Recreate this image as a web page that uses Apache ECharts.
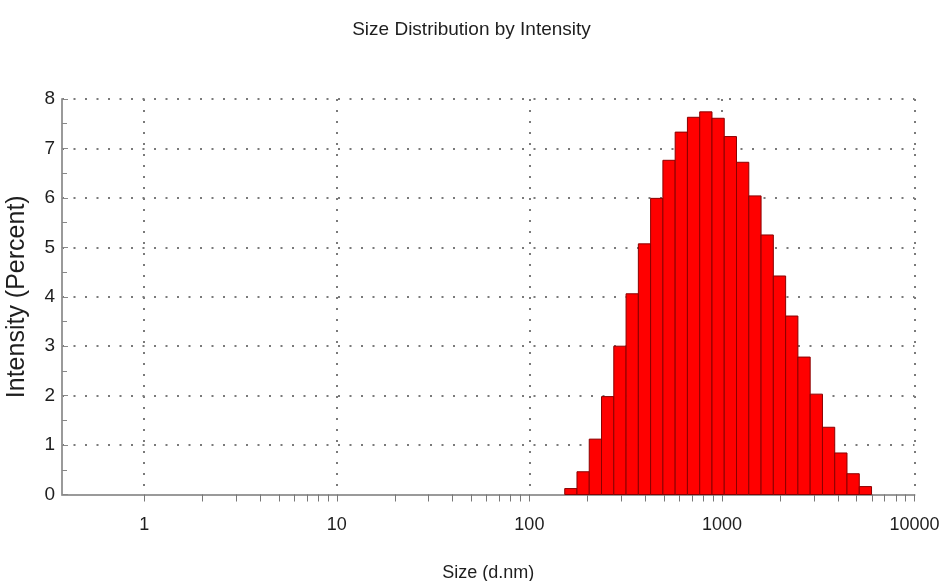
<!DOCTYPE html>
<html>
<head>
<meta charset="utf-8">
<script src="https://cdn.jsdelivr.net/npm/echarts@6/dist/echarts.min.js"></script>
<style>
html,body{margin:0;padding:0;background:#fff;}
#chart{width:943px;height:581px;}
</style>
</head>
<body>
<div id="chart"></div>
<script>
// Bin centre sizes (d.nm) and intensity (%)
const sizes = [164.2, 190.1, 220.2, 255.0, 295.3, 342.0, 396.1, 458.7, 531.2, 615.1, 712.4, 825.0, 955.4, 1106, 1281, 1484, 1718, 1990, 2305, 2669, 3091, 3580, 4145, 4801, 5560];
const intensity = [0.12, 0.46, 1.12, 1.98, 3.00, 4.06, 5.07, 5.99, 6.76, 7.33, 7.63, 7.74, 7.61, 7.24, 6.72, 6.04, 5.25, 4.42, 3.61, 2.78, 2.03, 1.36, 0.84, 0.42, 0.16];
const majorTicks = [1, 10, 100, 1000, 10000];
const minorTicks = [2, 3, 4, 5, 6, 7, 8, 9, 20, 30, 40, 50, 60, 70, 80, 90, 200, 300, 400, 500, 600, 700, 800, 900, 2000, 3000, 4000, 5000, 6000, 7000, 8000, 9000];

const FONT = "'Liberation Sans', Arial, sans-serif";
const TXT = '#1e1e1e';
const AXIS = '#9a9a9a';
const GRID = '#7a7a7a';

// bin edges: geometric midpoints between neighbouring sizes
const ratio = sizes[1] / sizes[0];
const data = sizes.map((s, i) => {
  const lo = i > 0 ? Math.sqrt(sizes[i - 1] * s) : s / Math.sqrt(ratio);
  const hi = i < sizes.length - 1 ? Math.sqrt(sizes[i + 1] * s) : s * Math.sqrt(ratio);
  return [s, intensity[i], lo, hi];
});

const chart = echarts.init(document.getElementById('chart'), null, {renderer: 'canvas'});
chart.setOption({
  animation: false,
  backgroundColor: '#fff',
  title: {
    text: 'Size Distribution by Intensity',
    left: 'center',
    top: 15,
    textStyle: {fontFamily: FONT, fontSize: 19, fontWeight: 'normal', color: TXT}
  },
  grid: {left: 62, right: 28.5, top: 99, bottom: 86.5, containLabel: false, outerBoundsMode: 'none'},
  xAxis: [{
    type: 'log',
    logBase: 10,
    min: 0.374,
    max: 10000,
    name: 'Size (d.nm)',
    nameLocation: 'middle',
    nameGap: 70,
    nameTextStyle: {fontFamily: FONT, fontSize: 18, color: TXT},
    axisLine: {show: true, lineStyle: {color: AXIS, width: 2}},
    axisTick: {show: true, customValues: majorTicks, length: 7, lineStyle: {color: '#777', width: 1}},
    axisLabel: {
      show: true, customValues: majorTicks, margin: 22,
      fontFamily: FONT, fontSize: 18, color: TXT,
      formatter: v => String(Math.round(v))
    },
    splitLine: {show: true, lineStyle: {color: GRID, width: 2, type: [2, 9]}},
    minorTick: {show: false},
    minorSplitLine: {show: false}
  }, {
    type: 'log',
    logBase: 10,
    min: 0.374,
    max: 10000,
    position: 'bottom',
    axisLine: {show: false},
    axisTick: {show: true, customValues: minorTicks, length: 7, lineStyle: {color: '#777', width: 1}},
    axisLabel: {show: false},
    splitLine: {show: false}
  }],
  yAxis: {
    type: 'value',
    min: 0,
    max: 8,
    interval: 1,
    name: 'Intensity (Percent)',
    nameLocation: 'middle',
    nameGap: 32,
    nameRotate: 90,
    nameTextStyle: {fontFamily: FONT, fontSize: 25, color: TXT},
    axisLine: {show: true, lineStyle: {color: AXIS, width: 2}},
    axisTick: {show: true, inside: true, length: 6, lineStyle: {color: '#888'}},
    minorTick: {show: true, splitNumber: 2, length: 5, lineStyle: {color: '#888'}},
    axisLabel: {margin: 7, fontFamily: FONT, fontSize: 19, color: TXT},
    splitLine: {show: true, lineStyle: {color: GRID, width: 2, type: [2, 9.5]}}
  },
  series: [{
    type: 'custom',
    xAxisIndex: 0,
    yAxisIndex: 0,
    data: data,
    encode: {x: 0, y: 1},
    renderItem: function (params, api) {
      const p0 = api.coord([api.value(2), api.value(1)]);
      const p1 = api.coord([api.value(3), 0]);
      return {
        type: 'rect',
        shape: {x: p0[0], y: p0[1], width: p1[0] - p0[0], height: p1[1] - p0[1]},
        style: {fill: '#ff0000', stroke: '#8a0000', lineWidth: 1}
      };
    }
  }]
});
</script>
</body>
</html>
